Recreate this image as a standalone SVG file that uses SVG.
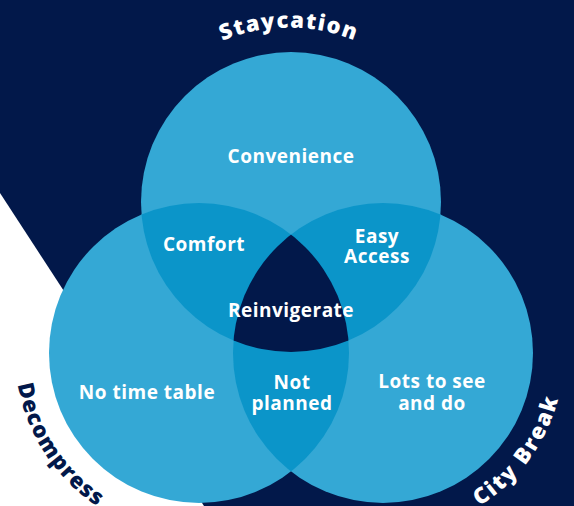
<svg xmlns="http://www.w3.org/2000/svg" width="574" height="506" viewBox="0 0 574 506">
<style>
.bg{fill:#02184a}
.c{fill:#34a8d5}
.o2{fill:#0b95c9}
.o3{fill:#02184a}
.lbl{font-family:"Open Sans","Liberation Sans",sans-serif;font-weight:700;font-size:19px;fill:#ffffff;text-anchor:middle;letter-spacing:0.5px}
.set{font-family:"Open Sans","Liberation Sans",sans-serif;font-weight:800;font-size:22px;text-anchor:middle}
</style>
<defs>
<clipPath id="cpTop"><circle cx="291" cy="202" r="150"/></clipPath>
<clipPath id="cpLeft"><circle cx="199" cy="353" r="150"/></clipPath>
<path id="arcTop" d="M136.4,116 A176,176 0 0 1 441.6,116" fill="none"/>
<path id="arcLeft" d="M26.1,290.1 A184,184 0 0 0 188.1,536.7" fill="none"/>
<path id="arcRight" d="M411.3,531.8 A181,181 0 0 0 561.8,324.7" fill="none"/>
</defs>
<g id="background">
<rect class="bg" x="0" y="0" width="574" height="506"/>
<polygon points="0,193 204,506 0,506" fill="#ffffff"/>
</g>
<g id="staycation">
<circle class="c" cx="291" cy="202" r="150"/>
</g>
<g id="decompress">
<circle class="c" cx="199" cy="353" r="150"/>
</g>
<g id="citybreak">
<circle class="c" cx="383" cy="353" r="150"/>
</g>
<g id="overlaps">
<circle class="o2" cx="199" cy="353" r="150" clip-path="url(#cpTop)"/>
<circle class="o2" cx="383" cy="353" r="150" clip-path="url(#cpTop)"/>
<circle class="o2" cx="383" cy="353" r="150" clip-path="url(#cpLeft)"/>
<g clip-path="url(#cpTop)"><circle class="o3" cx="383" cy="353" r="150" clip-path="url(#cpLeft)"/></g>
</g>
<g id="set-labels">
<text class="set" fill="#ffffff" letter-spacing="1.5"><textPath href="#arcTop" startOffset="50%">Staycation</textPath></text>
<text class="set" fill="#02184a" letter-spacing="1.2"><textPath href="#arcLeft" startOffset="50%">Decompress</textPath></text>
<text class="set" fill="#ffffff" letter-spacing="2"><textPath href="#arcRight" startOffset="50%">City Break</textPath></text>
</g>
<g id="region-labels">
<text class="lbl" x="291" y="163">Convenience</text>
<text class="lbl" x="204" y="251">Comfort</text>
<text class="lbl" x="377" y="243">Easy</text>
<text class="lbl" x="377" y="263">Access</text>
<text class="lbl" x="291" y="317">Reinvigerate</text>
<text class="lbl" x="147" y="399">No time table</text>
<text class="lbl" x="292" y="389">Not</text>
<text class="lbl" x="292" y="410">planned</text>
<text class="lbl" x="432" y="388">Lots to see</text>
<text class="lbl" x="432" y="410">and do</text>
</g>
</svg>
